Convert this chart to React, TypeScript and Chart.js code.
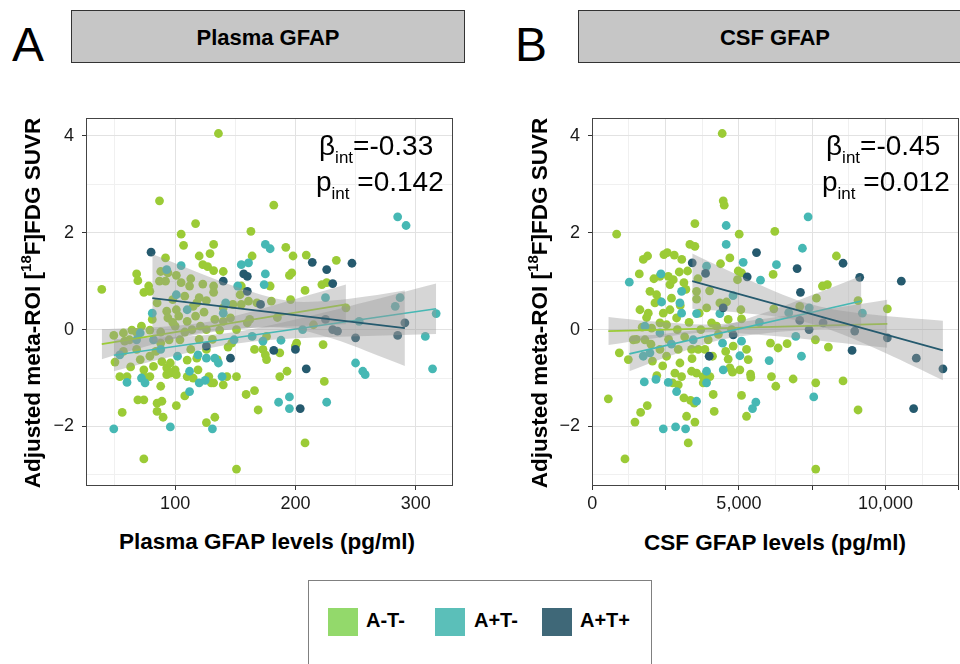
import React, { useEffect, useRef } from "react";
import { Chart, registerables } from "chart.js";
Chart.register(...registerables);

const FONT = "'Liberation Sans', Arial, Helvetica, sans-serif";

type Pt = [number, number];
type Band = [number, number, number];

const groupNames = ["A-T-", "A+T-", "A+T+"];
const pointColors = ["#9BCB36", "#46B8B4", "#255A6E"];
const legendColors = ["#93D96B", "#5BBFB9", "#3F6878"];

// y ticks shared by both panels
const yTickValues = [-3, -2, -1, 0, 1, 2, 3, 4];
const plasmaXTicks = [50, 100, 150, 200, 250, 300];
const csfXTicks = [0, 1250, 2500, 3750, 5000, 6250, 7500, 8750, 10000, 11250, 12500];

// ---------- Panel A: plasma GFAP ----------
const plasmaATneg: Pt[] = [
  [39, 0.83], [136, 4.05], [87, 2.66], [182, 2.57], [117, 2.19], [105, 1.97], [163, 2.03], [107, 1.74], [132, 1.76],
  [129, 1.57], [120, 1.52], [92, 1.48], [164, 1.52], [192, 1.7], [198, 1.52], [209, 1.54], [234, 1.43], [68, 1.15],
  [69, 1.01], [78, 0.9], [88, 1.2], [94, 1.17], [101, 1.12], [87, 1.0], [92, 1.0], [105, 0.97], [123, 1.34], [127, 1.3],
  [132, 1.22], [140, 1.2], [123, 0.94], [132, 0.9], [132, 0.77], [74, 0.77], [79, 0.79], [195, 1.12], [197, 1.17],
  [179, 0.9], [208, 0.81], [222, 0.93], [226, 0.97], [196, 0.62], [180, 0.59], [242, 0.45], [154, 0.72], [155, 0.9],
  [108, 0.69], [101, 0.41], [103, 0.28], [93, 0.38], [94, 0.24], [81, 0.21], [110, 0.17], [115, 0.48], [118, 0.55],
  [120, 0.66], [124, 0.36], [117, 0.28], [126, 0], [133, 0.21], [140, 0.17], [148, 0.52], [155, 0.52], [161, 0.59],
  [162, 0.21], [168, 0.55], [146, 0.24], [100, 0.07], [49, -0.12], [57, -0.07], [64, -0.01], [68, -0.06], [72, 0.07],
  [79, -0.01], [58, -0.24], [68, -0.41], [50, -0.67], [63, -0.77], [54, -0.97], [60, -0.97], [74, -0.83], [79, -0.55],
  [82, -0.76], [79, -0.97], [74, -0.97], [89, -0.66], [93, -0.79], [96, -0.69], [93, -0.93], [100, -0.83], [96, -0.9],
  [101, -0.93], [110, -0.63], [113, -0.41], [118, -0.59], [126, -0.41], [119, -0.83], [110, -0.97], [115, -1.0],
  [128, -0.97], [132, -1.1], [140, -1.14], [143, -0.97], [151, -0.97], [144, -0.36], [147, -0.28], [166, -0.41],
  [173, -0.41], [176, -0.62], [175, -0.52], [187, -0.48], [187, -0.97], [193, -0.86], [200, -0.34], [201, -0.28],
  [223, -0.31], [224, -1.07], [69, -1.45], [74, -1.45], [85, -1.52], [89, -1.48], [85, -1.69], [90, -1.81],
  [88, -1.17], [56, -1.71], [101, -1.57], [108, -1.37], [126, -1.92], [133, -1.81], [159, -1.34], [166, -1.26],
  [169, -1.66], [74, -2.67], [151, -2.88], [208, -2.34], [130, -1.1], [135, -0.62], [71, -0.62], [62, -0.21],
  [88, -0.28], [95, -0.21], [104, -0.21], [114, 0], [121, 0.07], [137, -0.01], [151, 0], [160, 0.14], [176, -0.14],
  [85, 0.55], [98, 0.62], [112, 0.9], [126, 0.6], [140, 0.45], [88, -0.05], [108, -0.05], [131, -0.2], [57, -0.45],
  [84, -0.45], [120, -0.2], [98, 0.15], [113, 1.05], [185, 0.25], [215, 0.1],
];
const plasmaATposTneg: Pt[] = [
  [49, -2.05], [96, -2.01], [131, -2.05], [285, 2.33], [292, 2.15], [175, 1.76], [179, 1.67], [155, 1.34], [105, 1.32],
  [175, 1.15], [174, 0.93], [101, 0.72], [81, 0.34], [142, 0.55], [152, 0.9], [225, 0.66], [287, 0.66], [283, 0.48],
  [317, 0.33], [253, 0.17], [110, 0.41], [206, 0], [188, -0.22], [173, -0.24], [149, -0.21], [164, -0.14], [88, -0.41],
  [102, -0.55], [126, -0.59], [133, -0.59], [136, -0.69], [139, -0.97], [119, -0.52], [112, -0.86], [120, -1.1],
  [125, -1.05], [72, -1.0], [75, -1.1], [60, -1.09], [112, -1.28], [195, -1.39], [186, -1.5], [195, -1.63], [226, -1.5],
  [250, -0.69], [256, -0.86], [258, -0.93], [308, -0.14], [314, -0.81], [161, 1.38], [93, 1.24], [140, 0.34], [71, -0.07],
  [82, -0.21], [68, -0.21], [54, -0.52],
];
const plasmaATpos: Pt[] = [
  [80, 1.6], [214, 1.39], [226, 1.24], [247, 1.37], [231, 0.95], [140, 1.0], [157, 1.15], [160, 1.1], [160, 0.79],
  [171, 0.52], [182, -0.43], [146, -0.59], [200, -0.41], [209, -0.81], [204, -1.63], [250, -0.17], [285, -0.12],
  [291, 0.14], [231, 0], [235, -0.03], [126, -0.34], [225, 0.21],
];
const plasmaFitATneg: Pt[] = [[39, -0.3], [242, 0.52]];
const plasmaFitATposTneg: Pt[] = [[49, -0.53], [317, 0.43]];
const plasmaFitATpos: Pt[] = [[81, 0.65], [291, 0.03]];
// [x, lower, upper]
const plasmaBandATneg: Band[] = [
  [39, -0.61, 0.01], [60, -0.46, 0.03], [90, -0.25, 0.06], [125, -0.05, 0.15], [160, 0.03, 0.35], [200, 0.07, 0.63], [242, 0.11, 0.93],
];
const plasmaBandATposTneg: Band[] = [
  [49, -0.86, -0.2], [80, -0.66, -0.17], [115, -0.45, -0.13], [150, -0.29, -0.05], [200, -0.18, 0.21], [260, -0.13, 0.58], [317, -0.09, 0.95],
];
const plasmaBandATpos: Band[] = [
  [81, -0.26, 1.56], [115, -0.12, 1.22], [150, 0.01, 0.89], [195, 0.03, 0.59], [230, -0.18, 0.6], [260, -0.45, 0.69], [291, -0.75, 0.81],
];

// ---------- Panel B: CSF GFAP ----------
const csfATneg: Pt[] = [
  [545, -1.43], [829, 1.97], [1113, -2.67], [920, -0.48], [1227, -0.62], [1454, -1.91], [1647, -1.71], [1874, -1.57],
  [1602, 1.15], [1738, 1.45], [1886, 1.52], [1624, 0.41], [1965, 0.79], [2136, 0.55], [2192, 0.72], [1908, 0.34],
  [2442, 1.55], [2556, 1.59], [2795, 1.54], [2306, 1.1], [2590, 1.1], [2647, 0.93], [2761, 1.03], [2965, 1.19],
  [3124, 0.97], [3249, 1.21], [3192, 0.83], [3328, 1.76], [3499, 1.72], [3499, 2.19], [3556, 0.79], [3556, 0.63],
  [3647, 0.34], [2874, 0.24], [2647, 0.41], [2533, 0.1], [2306, 0.14], [2420, 0.34], [2022, 0.03], [1795, -0.21],
  [1397, -0.21], [2306, -0.41], [2533, -0.55], [2931, -0.41], [2988, -0.69], [2817, -0.9], [2738, -1.1], [2931, -1.14],
  [3045, -0.97], [3124, -1.41], [3215, -1.79], [3271, -2.34], [3351, -1.46], [3476, -1.52], [3499, -1.91], [3385, -0.86],
  [3556, -0.9], [3783, -0.97], [3783, -1.1], [4010, -0.97], [4124, -1.34], [4158, -1.69], [3385, -0.41], [3613, -0.41],
  [3840, -0.41], [3953, -0.21], [4067, 0.14], [4238, 0.07], [4351, 0.55], [4374, 1.36], [4430, 4.05], [4465, 2.66],
  [4499, 2.57], [4692, 1.48], [4578, 0.57], [4635, 0.21], [4749, 0], [4805, -0.34], [4635, -0.61], [4692, -0.79],
  [4783, -0.88], [5010, 1.97], [4976, 1.21], [4953, 1.03], [5090, 1.17], [5067, 0.41], [5090, 0.22], [5033, -0.83],
  [5090, -1.36], [5260, -1.79], [5260, -0.41], [5317, -0.62], [5397, -0.92], [5408, -0.98], [6225, 2.03], [6168, 1.14],
  [6191, 0.43], [6077, -0.28], [6338, -0.38], [6645, -0.29], [6111, -0.97], [6259, -1.17], [6850, -1.02], [7611, -0.21],
  [7645, 0.65], [7622, -1.1], [7622, -2.88], [7850, 0.9], [8020, 0.93], [8054, -0.36], [8327, 1.52], [8554, -1.06],
  [9066, -1.66], [9066, 0.6], [10065, 0.43], [7077, 0.48], [1500, -0.2], [1700, 0.05], [2000, -0.3], [2250, 0.6],
  [2400, -0.75], [2600, -0.2], [2700, 0.65], [2900, 0.0], [3000, 0.5], [3150, -0.15], [3300, 0.15], [3400, -0.6],
  [3700, 0.0], [3900, 0.45], [4100, -0.55], [4300, -0.1], [2200, -0.95], [2050, -0.65], [1850, 0.25], [3600, 1.05],
  [4000, 0.8], [4550, -0.45], [3050, 1.45], [2100, 1.05],
];
const csfATposTneg: Pt[] = [
  [1261, 0.98], [2340, 1.15], [2420, -2.05], [2840, -2.01], [3181, -2.05], [1772, -1.08], [2170, -1.03], [2590, -1.09],
  [2874, -1.28], [3556, -1.48], [3897, -1.1], [4567, 2.15], [4567, 1.76], [5146, 1.39], [6282, 1.34], [7361, 2.33],
  [7168, 1.68], [5737, 1.02], [5464, -1.63], [5578, -1.5], [7554, -1.39], [7134, -0.55], [6032, -0.64], [6941, -0.14],
  [9213, 0.34], [5033, -0.54], [5090, -0.24], [2363, 0.57], [2988, 0.55], [3045, 0.79], [2306, -0.07], [1795, 0.07],
  [1738, -0.55], [1965, -0.48], [3045, 0.34], [3556, 0.33], [3897, 1.31], [4351, 0.33], [4442, -0.28], [4465, -0.83],
  [3897, -0.86], [3442, -0.21], [5700, 0.15], [6700, 0.35], [7400, 0.45], [4800, 0.7], [2700, -0.3],
];
const csfATpos: Pt[] = [
  [3408, 1.38], [3862, 1.16], [5283, 1.09], [5601, 1.59], [6986, 1.26], [7100, 0.77], [8554, 1.37], [9122, 1.08],
  [10542, 1.0], [7077, 0.19], [7395, 0], [7872, 0.14], [8952, -0.03], [8861, -0.43], [10065, -0.17], [11053, -0.59],
  [11962, -0.81], [10962, -1.63], [3987, -0.55], [4805, -0.11], [4465, 0.45],
];
const csfFitATneg: Pt[] = [[545, -0.03], [10065, 0.12]];
const csfFitATposTneg: Pt[] = [[1261, -0.5], [9179, 0.59]];
const csfFitATpos: Pt[] = [[3408, 1.0], [11962, -0.43]];
const csfBandATneg: Band[] = [
  [545, -0.32, 0.26], [2000, -0.19, 0.17], [4000, -0.055, 0.105], [6000, -0.124, 0.236], [8000, -0.244, 0.42], [10065, -0.375, 0.615],
];
const csfBandATposTneg: Band[] = [
  [1261, -0.86, -0.14], [2500, -0.574, -0.084], [4400, -0.208, 0.072], [6000, -0.068, 0.372], [7500, 0.003, 0.715], [9179, 0.066, 1.114],
];
const csfBandATpos: Band[] = [
  [3408, 0.43, 1.57], [5000, 0.352, 1.116], [6500, 0.244, 0.722], [7500, 0.116, 0.516], [8500, -0.09, 0.388], [10000, -0.484, 0.28], [11962, -1.045, 0.185],
];

const Y_MIN = -3.23;
const Y_MAX = 4.37;

function buildDatasets(points: Pt[][], fits: Pt[][], bands: Band[][]) {
  const seq: any[] = [];
  points.forEach((pts, g) => {
    seq.push({
      type: "scatter",
      data: pts.map(([x, y]) => ({ x, y })),
      backgroundColor: pointColors[g],
      borderWidth: 0,
      pointRadius: 4.4,
      pointHoverRadius: 4.4,
      pointBorderWidth: 0,
      showLine: false,
    });
  });
  bands.forEach((b, g) => {
    seq.push({
      type: "line",
      data: b.map(([x, lo]) => ({ x, y: lo })),
      borderWidth: 0,
      borderColor: "rgba(0,0,0,0)",
      pointRadius: 0,
      fill: false,
      tension: 0.35,
    });
    seq.push({
      type: "line",
      data: b.map(([x, , hi]) => ({ x, y: hi })),
      borderWidth: 0,
      borderColor: "rgba(0,0,0,0)",
      pointRadius: 0,
      fill: "-1",
      backgroundColor: "rgba(153,153,153,0.4)",
      tension: 0.35,
    });
    seq.push({
      type: "line",
      data: fits[g].map(([x, y]) => ({ x, y })),
      borderColor: pointColors[g],
      borderWidth: 1.7,
      pointRadius: 0,
      fill: false,
    });
  });
  const n = seq.length;
  seq.forEach((d, i) => (d.order = n - i));
  return seq;
}

const borderPlugin = {
  id: "panelBorder",
  afterDraw(chart: any) {
    const { ctx, chartArea } = chart;
    const { left, top, right, bottom } = chartArea;
    ctx.save();
    ctx.strokeStyle = "#444";
    ctx.lineWidth = 1;
    ctx.strokeRect(Math.round(left) + 0.5, Math.round(top) + 0.5, Math.round(right - left) - 1, Math.round(bottom - top) - 1);
    ctx.restore();
  },
};

const fmtY = (v: number) => (v % 2 !== 0 ? "" : v < 0 ? "\u2212" + Math.abs(v) : String(v));

function makeChart(
  canvas: HTMLCanvasElement,
  datasets: any[],
  xMin: number,
  xMax: number,
  xTicks: number[],
  isMajorX: (v: number) => boolean,
  isTickX: (v: number) => boolean,
  xLabel: (v: number) => string,
  yWidth: number,
  padRight: number
) {
  return new Chart(canvas, {
    type: "scatter",
    data: { datasets },
    plugins: [borderPlugin],
    options: {
      animation: false,
      responsive: false,
      devicePixelRatio: 1,
      events: [],
      layout: { padding: { top: 8, right: padRight, left: 0, bottom: 0 }, autoPadding: false } as any,
      plugins: { legend: { display: false }, tooltip: { enabled: false } },
      scales: {
        x: {
          type: "linear",
          min: xMin,
          max: xMax,
          afterBuildTicks: (s: any) => {
            s.ticks = xTicks.map((v) => ({ value: v }));
          },
          afterFit: (s: any) => {
            s.height = 34;
            s.paddingLeft = 0;
            s.paddingRight = 0;
            s.paddingTop = 0;
            s.paddingBottom = 0;
          },
          border: { display: false },
          grid: {
            color: (c: any) => (c.tick && isMajorX(c.tick.value) ? "#E2E2E2" : "#F0F0F0"),
            tickColor: (c: any) => (c.tick && isTickX(c.tick.value) ? "#333" : "rgba(0,0,0,0)"),
            tickLength: 4,
            lineWidth: 1,
          },
          ticks: {
            autoSkip: false,
            maxRotation: 0,
            padding: 3,
            color: "#1a1a1a",
            font: { family: FONT, size: 18 },
            callback: (v: any) => xLabel(Number(v)),
          },
        },
        y: {
          type: "linear",
          min: Y_MIN,
          max: Y_MAX,
          afterBuildTicks: (s: any) => {
            s.ticks = yTickValues.map((v) => ({ value: v }));
          },
          afterFit: (s: any) => {
            s.width = yWidth;
            s.paddingLeft = 0;
            s.paddingRight = 0;
            s.paddingTop = 0;
            s.paddingBottom = 0;
          },
          border: { display: false },
          grid: {
            color: (c: any) => (c.tick && c.tick.value % 2 === 0 ? "#E2E2E2" : "#F0F0F0"),
            tickColor: (c: any) => (c.tick && c.tick.value % 2 === 0 ? "#333" : "rgba(0,0,0,0)"),
            tickLength: 4,
            lineWidth: 1,
          },
          ticks: {
            autoSkip: false,
            padding: 8,
            color: "#1a1a1a",
            font: { family: FONT, size: 18 },
            callback: (v: any) => fmtY(Number(v)),
          },
        },
      },
    } as any,
  });
}

const abs = (o: React.CSSProperties): React.CSSProperties => ({ position: "absolute", fontFamily: FONT, color: "#000", whiteSpace: "nowrap", ...o });

function YTitle({ cx, cy }: { cx: number; cy: number }) {
  return (
    <div
      style={abs({
        left: cx - 220,
        top: cy - 14,
        width: 440,
        height: 28,
        lineHeight: "28px",
        textAlign: "center",
        fontWeight: "bold",
        fontSize: 22.5,
        transform: "rotate(-90deg)",
      })}
    >
      Adjusted meta-ROI [<span style={{ fontSize: 15, position: "relative", top: -9 }}>18</span>F]FDG SUVR
    </div>
  );
}

function Annot({ left, top, sym, value, space }: { left: number; top: number; sym: string; value: string; space?: boolean }) {
  return (
    <div style={abs({ left, top, fontSize: 28, lineHeight: "28px" })}>
      {sym}
      <span style={{ fontSize: 17, position: "relative", top: 8 }}>int</span>
      {space ? " " : ""}
      {value}
    </div>
  );
}

export default function App() {
  const refA = useRef<HTMLCanvasElement>(null);
  const refB = useRef<HTMLCanvasElement>(null);

  useEffect(() => {
    const chartA = makeChart(
      refA.current!,
      buildDatasets(
        [plasmaATneg, plasmaATposTneg, plasmaATpos],
        [plasmaFitATneg, plasmaFitATposTneg, plasmaFitATpos],
        [plasmaBandATneg, plasmaBandATposTneg, plasmaBandATpos]
      ),
      25.9,
      331,
      plasmaXTicks,
      (v) => v % 100 === 0,
      (v) => v % 100 === 0,
      (v) => (v % 100 === 0 ? String(v) : ""),
      46,
      7
    );
    const chartB = makeChart(
      refB.current!,
      buildDatasets(
        [csfATneg, csfATposTneg, csfATpos],
        [csfFitATneg, csfFitATposTneg, csfFitATpos],
        [csfBandATneg, csfBandATposTneg, csfBandATpos]
      ),
      -12,
      12510,
      csfXTicks,
      (v) => v % 2500 === 0,
      (v) => v % 2500 === 0,
      (v) => (v % 5000 === 0 ? v.toLocaleString("en-US") : ""),
      47,
      1
    );
    return () => {
      chartA.destroy();
      chartB.destroy();
    };
  }, []);

  return (
    <div style={{ position: "absolute", left: 0, top: 0, width: 960, height: 664, overflow: "hidden", background: "#fff" }}>
      {/* panel letters */}
      <div style={abs({ left: 12, top: 21, fontSize: 48, lineHeight: "48px" })}>A</div>
      <div style={abs({ left: 515, top: 21, fontSize: 48, lineHeight: "48px" })}>B</div>

      {/* strips */}
      <div style={abs({ left: 71, top: 10, width: 394, height: 53, boxSizing: "border-box", border: "1px solid #333", background: "#C6C6C6" })} />
      <div style={abs({ left: 71, top: 24, width: 394, height: 28, lineHeight: "28px", textAlign: "center", fontWeight: "bold", fontSize: 22 })}>
        Plasma GFAP
      </div>
      <div style={abs({ left: 578, top: 10, width: 394, height: 53, boxSizing: "border-box", border: "1px solid #333", background: "#C6C6C6" })} />
      <div style={abs({ left: 578, top: 24, width: 394, height: 28, lineHeight: "28px", textAlign: "center", fontWeight: "bold", fontSize: 22 })}>
        CSF GFAP
      </div>

      {/* charts */}
      <canvas ref={refA} width={420} height={410} style={{ position: "absolute", left: 40, top: 110, width: 420, height: 410, display: "block" }} />
      <canvas ref={refB} width={415} height={410} style={{ position: "absolute", left: 545, top: 110, width: 415, height: 410, display: "block" }} />

      {/* axis titles */}
      <YTitle cx={33.3} cy={302.5} />
      <YTitle cx={539.8} cy={302.5} />
      <div style={abs({ left: 67, top: 528, width: 400, height: 28, lineHeight: "28px", textAlign: "center", fontWeight: "bold", fontSize: 22.5 })}>
        Plasma GFAP levels (pg/ml)
      </div>
      <div style={abs({ left: 575, top: 529, width: 400, height: 28, lineHeight: "28px", textAlign: "center", fontWeight: "bold", fontSize: 22.5 })}>
        CSF GFAP levels (pg/ml)
      </div>

      {/* annotations */}
      <Annot left={319} top={132} sym={"\u03B2"} value="=-0.33" />
      <Annot left={316} top={168} sym="p" value="=0.142" space />
      <Annot left={826} top={132} sym={"\u03B2"} value="=-0.45" />
      <Annot left={822} top={168} sym="p" value="=0.012" space />

      {/* legend */}
      <div style={abs({ left: 308, top: 580, width: 344, height: 110, boxSizing: "border-box", border: "1px solid #808080" })} />
      {groupNames.map((g, i) => {
        const sq = [328, 435, 542][i];
        const lx = [366, 474, 580][i];
        return (
          <React.Fragment key={g}>
            <div style={abs({ left: sq, top: 608, width: 30, height: 28, background: legendColors[i] })} />
            <div style={abs({ left: lx, top: 608, height: 24, lineHeight: "24px", fontWeight: "bold", fontSize: 20 })}>{g}</div>
          </React.Fragment>
        );
      })}
    </div>
  );
}
